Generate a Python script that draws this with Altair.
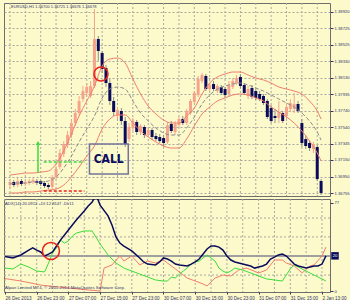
import altair as alt
import pandas as pd

BG = "#FCFACB"
SALMON = "#F5A48C"
NAVY = "#0B0B5C"
WICK_DN = "#8C8C8C"
BAND = "#F07D6E"
MID = "#8C8C8C"
GRID = "#A8A8A0"
FRAME = "#6E6E6E"
LABEL = "#34346C"
GREEN = "#3CDC3C"
RED = "#E8231E"
FONT = "Liberation Sans"
NARROW = "Liberation Sans Narrow, DejaVu Sans Condensed, Liberation Sans"

# ---------------- price panel data (EURUSD H1), one entry per bar ----------------
opens = [1.36851, 1.36887, 1.36851, 1.36899, 1.36863, 1.36875, 1.36887, 1.36899, 1.36899, 1.36875,
         1.36851, 1.36827, 1.36947, 1.37066, 1.37221, 1.37329, 1.37448, 1.37591, 1.37711, 1.37878,
         1.37950, 1.37914, 1.38033, 1.38594, 1.38427, 1.38248, 1.38069, 1.37854, 1.37687, 1.37735,
         1.37615, 1.37400, 1.37532, 1.37603, 1.37484, 1.37544, 1.37448, 1.37508, 1.37436, 1.37424,
         1.37412, 1.37365, 1.37579, 1.37484, 1.37567, 1.37639, 1.37591, 1.37711, 1.37842, 1.37926,
         1.38093, 1.38153, 1.37997, 1.38057, 1.37973, 1.38021, 1.37997, 1.37938, 1.38021, 1.38069,
         1.38141, 1.38045, 1.37914, 1.38009, 1.37973, 1.37938, 1.37914, 1.37854, 1.37770, 1.37675,
         1.37651, 1.37711, 1.37675, 1.37759, 1.37759, 1.37818, 1.37591, 1.37400, 1.37353, 1.37281,
         1.37305, 1.36899]
highs = [1.36923, 1.36911, 1.36935, 1.36923, 1.36911, 1.36923, 1.36935, 1.36923, 1.36911, 1.36899,
         1.36875, 1.36970, 1.37078, 1.37281, 1.37376, 1.37496, 1.37639, 1.37759, 1.37914, 1.38033,
         1.38069, 1.38093, 1.38952, 1.38630, 1.38451, 1.38284, 1.38117, 1.37902, 1.37782, 1.37770,
         1.37663, 1.37591, 1.37651, 1.37627, 1.37579, 1.37567, 1.37544, 1.37532, 1.37472, 1.37460,
         1.37448, 1.37603, 1.37615, 1.37615, 1.37663, 1.37675, 1.37759, 1.37878, 1.37973, 1.38153,
         1.38188, 1.38176, 1.38069, 1.38093, 1.38057, 1.38045, 1.38021, 1.38093, 1.38117, 1.38164,
         1.38176, 1.38069, 1.38033, 1.38045, 1.37997, 1.37973, 1.37938, 1.37878, 1.37806, 1.37759,
         1.37854, 1.37735, 1.37830, 1.37878, 1.37950, 1.37854, 1.37639, 1.37448, 1.37388, 1.37365,
         1.37329, 1.36923]
lows = [1.36803, 1.36827, 1.36827, 1.36839, 1.36839, 1.36851, 1.36863, 1.36851, 1.36839, 1.36815,
        1.36803, 1.36803, 1.36923, 1.37042, 1.37185, 1.37293, 1.37412, 1.37556, 1.37687, 1.37842,
        1.37914, 1.37890, 1.38009, 1.38332, 1.38188, 1.38021, 1.37806, 1.37675, 1.37639, 1.37567,
        1.37305, 1.37365, 1.37496, 1.37448, 1.37448, 1.37412, 1.37424, 1.37388, 1.37376, 1.37353,
        1.37305, 1.37341, 1.37472, 1.37448, 1.37544, 1.37567, 1.37567, 1.37687, 1.37818, 1.37902,
        1.38069, 1.37973, 1.37973, 1.37973, 1.37950, 1.37926, 1.37890, 1.37914, 1.37997, 1.38045,
        1.38009, 1.37926, 1.37878, 1.37878, 1.37866, 1.37854, 1.37806, 1.37639, 1.37591, 1.37591,
        1.37591, 1.37591, 1.37639, 1.37723, 1.37711, 1.37711, 1.37305, 1.37281, 1.37257, 1.37233,
        1.36899, 1.36732]
closes = [1.36887, 1.36851, 1.36899, 1.36863, 1.36887, 1.36899, 1.36911, 1.36875, 1.36863, 1.36839,
          1.36827, 1.36947, 1.37042, 1.37233, 1.37341, 1.37448, 1.37591, 1.37711, 1.37854, 1.37973,
          1.38021, 1.38033, 1.38594, 1.38451, 1.38236, 1.38069, 1.37854, 1.37723, 1.37747, 1.37615,
          1.37341, 1.37544, 1.37615, 1.37484, 1.37556, 1.37448, 1.37508, 1.37424, 1.37400, 1.37376,
          1.37353, 1.37567, 1.37496, 1.37579, 1.37639, 1.37591, 1.37735, 1.37854, 1.37950, 1.38117,
          1.38164, 1.37997, 1.38045, 1.37997, 1.38033, 1.37950, 1.37926, 1.38045, 1.38093, 1.38129,
          1.38033, 1.37950, 1.37997, 1.37902, 1.37890, 1.37878, 1.37830, 1.37663, 1.37615, 1.37651,
          1.37723, 1.37615, 1.37782, 1.37830, 1.37818, 1.37735, 1.37353, 1.37317, 1.37293, 1.37341,
          1.36923, 1.36756]

band_idx = list(range(0, 81, 2)) + [81]
upper = [1.36970, 1.36982, 1.36994, 1.36994, 1.37006, 1.37018, 1.37102, 1.37257, 1.37460, 1.37675,
         1.37854, 1.38033, 1.38272, 1.38355, 1.38367, 1.38308, 1.38117, 1.37938, 1.37794, 1.37699,
         1.37627, 1.37591, 1.37591, 1.37675, 1.37770, 1.37938, 1.38069, 1.38141, 1.38176, 1.38200,
         1.38200, 1.38164, 1.38129, 1.38105, 1.38069, 1.38021, 1.37997, 1.37973, 1.37938, 1.37854,
         1.37735, 1.37639]
middle = [1.36863, 1.36875, 1.36875, 1.36887, 1.36887, 1.36899, 1.36947, 1.37054, 1.37197, 1.37365,
          1.37520, 1.37675, 1.37890, 1.37997, 1.38021, 1.37997, 1.37854, 1.37711, 1.37615, 1.37532,
          1.37472, 1.37448, 1.37448, 1.37532, 1.37663, 1.37818, 1.37926, 1.37997, 1.38033, 1.38057,
          1.38069, 1.38045, 1.38009, 1.37973, 1.37926, 1.37878, 1.37830, 1.37782, 1.37711, 1.37615,
          1.37484, 1.37388]
lower = [1.36756, 1.36756, 1.36768, 1.36768, 1.36779, 1.36791, 1.36803, 1.36851, 1.36947, 1.37066,
         1.37197, 1.37317, 1.37520, 1.37639, 1.37687, 1.37687, 1.37591, 1.37496, 1.37424, 1.37365,
         1.37317, 1.37293, 1.37293, 1.37400, 1.37556, 1.37699, 1.37782, 1.37854, 1.37890, 1.37926,
         1.37938, 1.37926, 1.37890, 1.37854, 1.37782, 1.37723, 1.37663, 1.37591, 1.37496, 1.37376,
         1.37233, 1.37138]

price_ticks = [1.36755, 1.36950, 1.37150, 1.37345, 1.37540, 1.37740,
               1.37935, 1.38130, 1.38330, 1.38525, 1.38725, 1.38920]

# ---------------- ADX(14) panel data ----------------
adx_idx = [0, 2, 4, 6, 7, 8, 9, 10, 11, 12, 13, 14, 16, 18, 20, 21, 22, 23, 24, 26, 27, 28, 29, 30,
           32, 34, 35, 36, 38, 39, 40, 41, 42, 43, 44, 46, 47, 48, 49, 50, 51, 52, 53, 54, 55, 56,
           57, 58, 60, 62, 63, 64, 65, 66, 67, 68, 69, 70, 71, 72, 73, 74, 76, 78, 79, 80, 81]
adx = [19.7, 18.9, 20.6, 23.4, 24.6, 23.4, 22.3, 20.0, 21.1, 22.3, 25.7, 29.1, 34.9, 40.6, 45.7,
       48.6, 50.9, 54.9, 49.1, 42.9, 37.7, 30.9, 27.4, 25.7, 22.9, 18.9, 16.6, 15.4, 14.9, 16.6,
       18.9, 18.3, 17.1, 15.4, 14.9, 14.3, 15.4, 16.6, 18.3, 21.1, 24.0, 25.7, 25.7, 25.1, 23.4,
       20.0, 17.7, 16.6, 15.4, 14.3, 13.1, 13.7, 14.3, 15.4, 18.3, 19.4, 20.6, 21.1, 20.0, 17.7,
       15.4, 14.3, 13.1, 14.3, 14.3, 15.4, 20.1]
pdi_idx = [0, 2, 4, 6, 8, 10, 11, 12, 13, 14, 15, 16, 17, 18, 20, 22, 24, 26, 28, 30, 32, 34, 36,
           38, 40, 41, 42, 43, 44, 45, 46, 47, 48, 49, 50, 51, 52, 53, 54, 55, 56, 57, 58, 60, 62,
           64, 66, 68, 70, 72, 73, 74, 76, 78, 80, 81]
pdi = [13.1, 12.6, 15.4, 13.7, 11.4, 10.9, 16.0, 21.7, 24.6, 29.1, 27.4, 28.6, 31.4, 33.1, 34.3,
       34.3, 26.9, 20.6, 16.0, 13.1, 11.4, 9.7, 8.0, 6.3, 5.7, 5.7, 8.0, 7.4, 9.7, 11.4, 13.1, 15.4,
       16.6, 17.1, 18.9, 20.6, 18.9, 17.1, 13.1, 11.4, 10.3, 11.4, 13.1, 12.0, 10.3, 8.6, 6.9, 6.3,
       5.7, 12.6, 14.9, 13.7, 11.4, 9.1, 6.9, 5.7]
mdi_idx = [0, 4, 9, 16, 21, 24, 25, 27, 29, 30, 32, 34, 36, 38, 40, 41, 43, 45, 46, 48, 50, 51,
           52, 53, 55, 57, 59, 61, 64, 66, 68, 70, 71, 73, 75, 77, 78, 80, 81]
mdi = [7.1, 5.7, 3.4, 1.7, 0.6, 0.0, 13.1, 14.9, 20.0, 17.1, 20.0, 14.9, 17.1, 16.0, 17.7, 16.0,
       12.6, 9.1, 7.4, 5.7, 4.0, 2.9, 5.1, 7.4, 9.1, 8.6, 12.0, 13.1, 10.3, 12.0, 17.7, 17.7, 16.0,
       14.3, 10.3, 14.3, 14.9, 20.0, 25.1]
adx_grid = [9.1, 30.9, 41.7]
adx_level = [20]
adx_last = [20.0912]

time_idx = list(range(0, 81, 8))
time_labels = ["26 Dec 2013", "26 Dec 23:00", "27 Dec 07:00", "27 Dec 15:00", "27 Dec 23:00",
               "30 Dec 07:00", "30 Dec 15:00", "30 Dec 23:00", "31 Dec 07:00", "31 Dec 15:00",
               "2 Jan 13:00"]
vgrid_idx = list(range(0, 82, 4))

header = "EURUSD,H1  1.36700 1.36725 1.36676 1.36678"
adx_header = "ADX(14) 20.0912 +DI:12.8147 -DI:11"
footer = "Alpari Limited MT4, \u00a9 2001-2014 MetaQuotes Software Corp."

# annotations (bar index / price positions)
arrow = {"i": [7.3], "p0": [1.36994], "p1": [1.37329]}
arrow_head = {"i": [7.3], "p": [1.37353]}
levels = {"i0": [8.8, 8.8], "i1": [19.4, 19.4], "p": [1.37126, 1.36779], "c": ["up", "down"]}
circle_top = {"i": [23.7], "p": [1.38176]}
call_box = {"i0": [20.7], "i1": [30.8], "p0": [1.37341], "p1": [1.36982]}
call_text = {"i": [25.7], "p": [1.37162], "t": ["CALL"]}
circle_adx = {"i": [11.6], "v": [22.9]}

# ---------------- build ----------------
candles = pd.DataFrame({"i": list(range(len(opens))), "open": opens, "high": highs,
                        "low": lows, "close": closes})
bands = pd.DataFrame({"i": band_idx, "upper": upper, "middle": middle, "lower": lower})

xscale = alt.Scale(domain=[-0.25, 82.02], nice=False, zero=False)
pscale = alt.Scale(domain=[1.36720, 1.39024], nice=False, zero=False)
ascale = alt.Scale(domain=[-0.57, 52.57], nice=False, zero=False)

yax = alt.Axis(orient="right", values=price_ticks, format=".5f", grid=True, gridDash=[2, 2],
               gridColor=GRID, gridWidth=1, domain=False, tickSize=3, tickColor=LABEL,
               labelPadding=1, labelFontSize=4.2, labelColor=LABEL, labelFont=FONT, title=None)
aax = alt.Axis(orient="right", values=[0, 50.3], labelExpr="datum.value > 1 ? '77' : '0'",
               grid=False, domain=False, tickSize=3, tickColor=LABEL, labelPadding=1,
               labelFontSize=4.2, labelColor=LABEL, labelFont=FONT, title=None)
labels_js = "[" + ",".join("'" + s + "'" for s in time_labels) + "]"
xax = alt.Axis(orient="bottom", values=time_idx, labelExpr=labels_js + "[round(datum.value / 8)]",
               labelAlign="left", labelFlush=False, labelOverlap=False, tickSize=2,
               tickColor=LABEL, domain=False, grid=False, labelPadding=1, labelFontSize=4.6,
               labelColor=LABEL, labelFont=FONT, title=None)


def XT(f):
    return alt.X(f, type="quantitative", scale=xscale, axis=None)


def XB(f):
    return alt.X(f, type="quantitative", scale=xscale, axis=xax)


def P(f):
    return alt.Y(f, type="quantitative", scale=pscale, axis=yax)


def A(f):
    return alt.Y(f, type="quantitative", scale=ascale, axis=aax)


up_cond = "datum.close >= datum.open"

vgrid_top = alt.Chart(pd.DataFrame({"g": vgrid_idx})).mark_rule(
    color=GRID, strokeDash=[2, 2], strokeWidth=1).encode(x=XT("g"))
wicks = alt.Chart(candles).mark_rule(strokeWidth=1).encode(
    x=XT("i"), y=P("low"), y2="high",
    color=alt.condition(up_cond, alt.value(SALMON), alt.value(WICK_DN)))
bodies = alt.Chart(candles).mark_bar(size=3).encode(
    x=XT("i"), y=P("open"), y2="close",
    color=alt.condition(up_cond, alt.value(SALMON), alt.value(NAVY)))
up_line = alt.Chart(bands).mark_line(color=BAND, strokeWidth=1, interpolate="monotone").encode(
    x=XT("i"), y=P("upper"))
lo_line = alt.Chart(bands).mark_line(color=BAND, strokeWidth=1, interpolate="monotone").encode(
    x=XT("i"), y=P("lower"))
mid_line = alt.Chart(bands).mark_line(color=MID, strokeWidth=1, strokeDash=[4, 2],
                                      interpolate="monotone").encode(x=XT("i"), y=P("middle"))

arrow_l = alt.Chart(pd.DataFrame(arrow)).mark_rule(color=GREEN, strokeWidth=1.5).encode(
    x=XT("i"), y=P("p0"), y2="p1")
arrow_h = alt.Chart(pd.DataFrame(arrow_head)).mark_point(
    shape="triangle-up", filled=True, size=22, color=GREEN, opacity=1).encode(x=XT("i"), y=P("p"))
level_l = alt.Chart(pd.DataFrame(levels)).mark_rule(strokeDash=[3, 2], strokeWidth=1.5).encode(
    x=XT("i0"), x2="i1", y=P("p"),
    color=alt.Color("c:N", scale=alt.Scale(domain=["up", "down"], range=[GREEN, RED]), legend=None))
circ1 = alt.Chart(pd.DataFrame(circle_top)).mark_point(
    shape="circle", filled=False, size=196, color=RED, strokeWidth=1.5, opacity=1).encode(
    x=XT("i"), y=P("p"))
box = alt.Chart(pd.DataFrame(call_box)).mark_rect(
    fillOpacity=0, stroke="#74749A", strokeWidth=1.5).encode(
    x=XT("i0"), x2="i1", y=P("p0"), y2="p1")
call = alt.Chart(pd.DataFrame(call_text)).mark_text(
    font=NARROW, fontSize=12, fontWeight="bold", color=NAVY).encode(
    x=XT("i"), y=P("p"), text="t:N")
head = alt.Chart(pd.DataFrame({"t": [header]})).mark_text(
    align="left", baseline="middle", font=FONT, fontSize=4, color=LABEL).encode(
    x=alt.value(7), y=alt.value(4), text="t:N")

top = alt.layer(vgrid_top, wicks, bodies, mid_line, up_line, lo_line, level_l, arrow_l, arrow_h,
                box, call, circ1, head).properties(width=326, height=193)

vgrid_bot = alt.Chart(pd.DataFrame({"g": vgrid_idx})).mark_rule(
    color=GRID, strokeDash=[2, 2], strokeWidth=1).encode(x=XB("g"))
hgrid_bot = alt.Chart(pd.DataFrame({"v": adx_grid})).mark_rule(
    color=GRID, strokeDash=[2, 2], strokeWidth=1).encode(y=A("v"))
lvl = alt.Chart(pd.DataFrame({"v": adx_level})).mark_rule(
    color="#A0A0A0", strokeWidth=2).encode(y=A("v"))
l_adx = alt.Chart(pd.DataFrame({"i": adx_idx, "v": adx})).mark_line(
    color=NAVY, strokeWidth=1.5, clip=True).encode(x=XB("i"), y=A("v"))
l_pdi = alt.Chart(pd.DataFrame({"i": pdi_idx, "v": pdi})).mark_line(
    color=GREEN, strokeWidth=1, clip=True).encode(x=XB("i"), y=A("v"))
l_mdi = alt.Chart(pd.DataFrame({"i": mdi_idx, "v": mdi})).mark_line(
    color=BAND, strokeWidth=1, clip=True).encode(x=XB("i"), y=A("v"))
circ2 = alt.Chart(pd.DataFrame(circle_adx)).mark_point(
    shape="circle", filled=False, size=290, color=RED, strokeWidth=1.5, opacity=1).encode(
    x=XB("i"), y=A("v"))
last_box = alt.Chart(pd.DataFrame({"v": adx_last})).mark_square(
    size=56, color=NAVY, opacity=1).encode(x=alt.value(331), y=A("v"))
last_txt = alt.Chart(pd.DataFrame({"v": adx_last, "t": ["20"]})).mark_text(
    font=FONT, fontSize=4.2, color="white").encode(x=alt.value(331), y=A("v"), text="t:N")
adx_head = alt.Chart(pd.DataFrame({"t": [adx_header]})).mark_text(
    align="left", baseline="middle", font=FONT, fontSize=4.2, color=LABEL).encode(
    x=alt.value(1), y=alt.value(5), text="t:N")
foot = alt.Chart(pd.DataFrame({"t": [footer]})).mark_text(
    align="left", baseline="middle", font=FONT, fontSize=4.4, color=LABEL).encode(
    x=alt.value(1), y=alt.value(89), text="t:N")

bottom = alt.layer(vgrid_bot, hgrid_bot, lvl, l_mdi, l_pdi, l_adx, circ2, last_box, last_txt,
                   adx_head, foot).properties(width=326, height=93)

chart = alt.vconcat(top, bottom, spacing=1).resolve_scale(
    x="independent", y="independent", color="independent").properties(
    background=BG, padding={"left": 2, "top": 2, "right": 0, "bottom": 0}).configure_view(
    stroke=FRAME, strokeWidth=1)

chart.save("out.html", embed_options={"renderer": "svg", "actions": False})
